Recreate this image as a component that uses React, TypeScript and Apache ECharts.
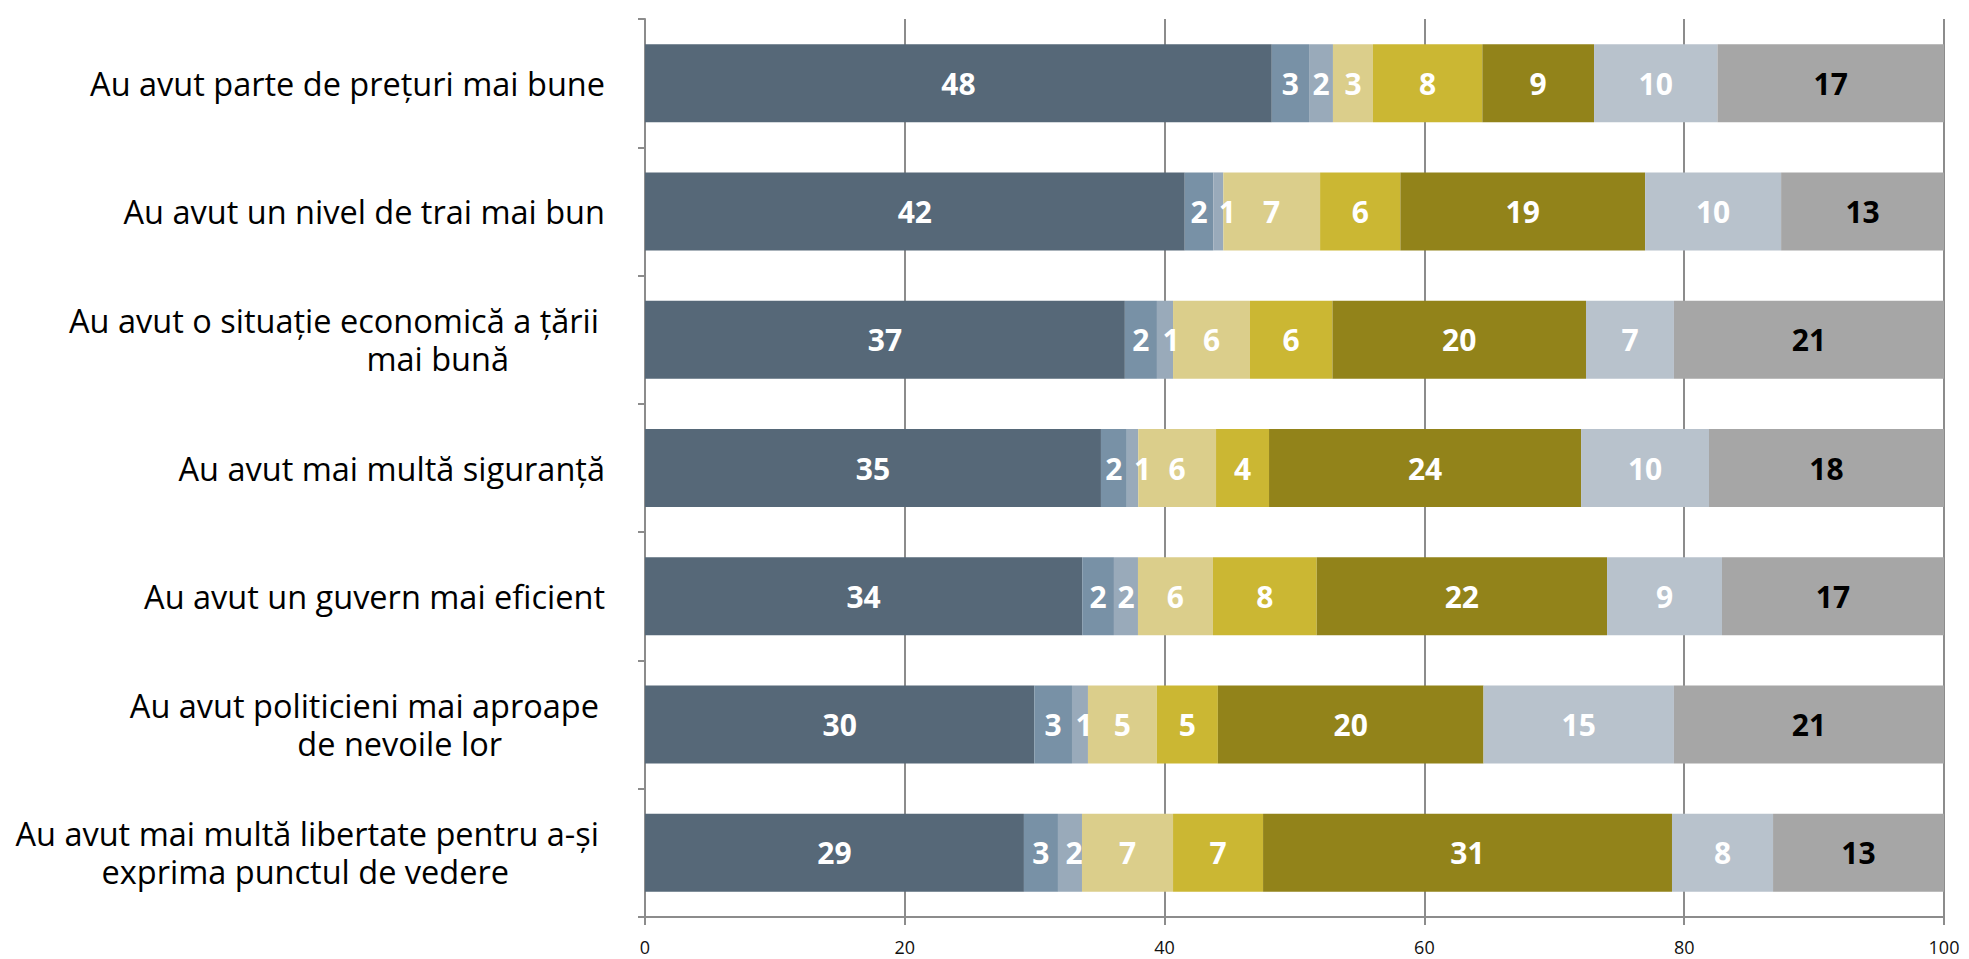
import React, { useEffect, useRef } from "react";
import * as echarts from "echarts";

const categories = [
  "Au avut parte de prețuri mai bune",
  "Au avut un nivel de trai mai bun",
  "Au avut o situație economică a țării\nmai bună",
  "Au avut mai multă siguranță",
  "Au avut un guvern mai eficient",
  "Au avut politicieni mai aproape\nde nevoile lor",
  "Au avut mai multă libertate pentru a-și\nexprima punctul de vedere",
];

const serie1 = [48.25, 41.55, 36.94, 35.1, 33.66, 29.97, 29.17];
const serie2 = [2.87, 2.2, 2.47, 1.99, 2.44, 2.9, 2.62];
const serie3 = [1.84, 0.77, 1.24, 0.88, 1.85, 1.23, 1.85];
const serie4 = [3.08, 7.45, 5.92, 5.99, 5.77, 5.3, 7.01];
const serie5 = [8.42, 6.18, 6.35, 4.08, 7.99, 4.7, 6.93];
const serie6 = [8.6, 18.84, 19.52, 24.02, 22.35, 20.45, 31.48];
const serie7 = [9.5, 10.47, 6.77, 9.85, 8.85, 14.66, 7.78];
const serie8 = [17.44, 12.55, 20.79, 18.09, 17.09, 20.79, 13.16];

const xTicks = [0, 20, 40, 60, 80, 100];

const allSeries = [serie1, serie2, serie3, serie4, serie5, serie6, serie7, serie8];
const colors = ["#566878", "#7891a6", "#99aaba", "#dbce8b", "#cbb733", "#92831a", "#b8c2cc", "#a6a6a6"];
const labelColors = ["#fff", "#fff", "#fff", "#fff", "#fff", "#fff", "#fff", "#000"];

// layout only: horizontal nudge (px) of a few crowded labels, keyed "series-row"
const labelNudge: Record<string, number> = { "2-1": 9, "2-2": 6, "2-3": 10, "2-5": 4, "2-6": 4 };
// layout only: second-line style key per category
const secondLineStyle: Record<number, string> = { 2: "b1", 5: "b2", 6: "b1" };

const FONT = "'Open Sans', 'Noto Sans', sans-serif";
const CAT_SIZE = 32.5;

export default function App() {
  const ref = useRef<HTMLDivElement>(null);
  useEffect(() => {
    document.body.style.margin = "0";
    const chart = echarts.init(ref.current!, null, { renderer: "svg" });
    const grey = "#8c8c8c";
    const catStyle = { fontSize: CAT_SIZE, fontFamily: FONT, color: "#000", lineHeight: 38 };
    chart.setOption({
      animation: false,
      backgroundColor: "#fff",
      textStyle: { fontFamily: FONT },
      grid: { left: 645, right: 25, top: 19, bottom: 42, containLabel: false },
      xAxis: {
        type: "value",
        min: xTicks[0],
        max: xTicks[xTicks.length - 1],
        interval: xTicks[1] - xTicks[0],
        axisLine: { show: true, lineStyle: { color: grey, width: 2 } },
        axisTick: { show: true, length: 8, lineStyle: { color: grey, width: 2 } },
        splitLine: { show: true, lineStyle: { color: grey, width: 2 } },
        axisLabel: { fontSize: 18, color: "#111", margin: 21, fontFamily: FONT },
      },
      yAxis: {
        type: "category",
        inverse: true,
        data: categories,
        axisLine: { show: true, lineStyle: { color: grey, width: 2 } },
        axisTick: { show: true, length: 7, lineStyle: { color: grey, width: 2 } },
        axisLabel: {
          margin: 40,
          color: "#000",
          fontSize: CAT_SIZE,
          fontFamily: FONT,
          formatter: (value: string, index: number) => {
            const lines = value.split("\n");
            if (lines.length === 1) return `{a|${lines[0]}}`;
            return `{c|${lines[0]}}\n{${secondLineStyle[index] || "b1"}|${lines[1]}}`;
          },
          rich: {
            a: { ...catStyle },
            c: { ...catStyle, padding: [0, 6, 0, 0] },
            b1: { ...catStyle, padding: [0, 96, 0, 0] },
            b2: { ...catStyle, padding: [0, 103, 0, 0] },
          },
        },
      },
      series: allSeries.map((data, i) => ({
        name: `Seria ${i + 1}`,
        type: "bar",
        stack: "total",
        barWidth: 78,
        data: data.map((v, r) => {
          const dx = labelNudge[`${i}-${r}`];
          return dx ? { value: v, label: { offset: [dx, 0] } } : v;
        }),
        itemStyle: { color: colors[i] },
        label: {
          show: true,
          position: "inside",
          color: labelColors[i],
          fontWeight: "bold",
          fontSize: 30,
          fontFamily: FONT,
          formatter: (p: any) => String(Math.round(p.value)),
        },
      })),
    });
    return () => chart.dispose();
  }, []);
  return <div ref={ref} style={{ width: 1969, height: 959 }} />;
}
